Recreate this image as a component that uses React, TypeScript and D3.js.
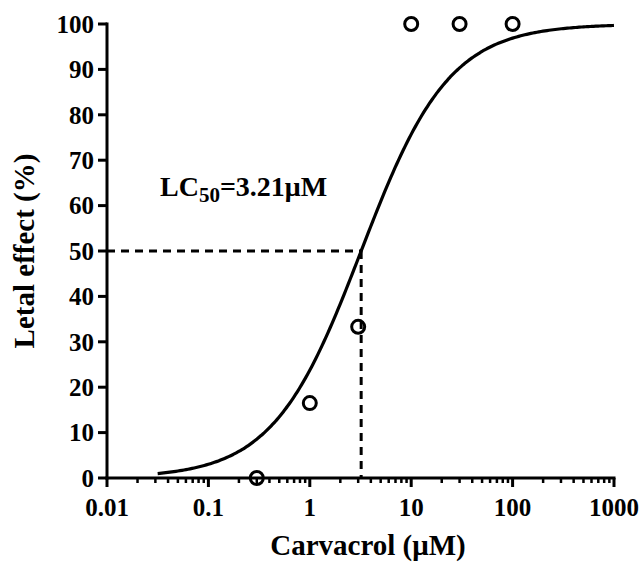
import React from "react";
import * as d3 from "d3";

const doseX = [0.3, 1, 3, 10, 30, 100];
const effectY = [0, 16.5, 33.3, 100, 100, 100];
const xTicks = [0.01, 0.1, 1, 10, 100, 1000];
const xTickLabels = ["0.01", "0.1", "1", "10", "100", "1000"];
const yTicks = [0, 10, 20, 30, 40, 50, 60, 70, 80, 90, 100];
const lc50 = 3.21;
const hillSlope = 1.0;
const curveTop = 100;
const curveBottom = 0;
const curveStart = 0.0316;
const curveEnd = 1000;

export default function App() {
  const W = 642, H = 563;
  const x = d3.scaleLog().domain([0.01, 1000]).range([107, 614]);
  const y = d3.scaleLinear().domain([0, 100]).range([478, 24]);
  const hill = (c: number) => curveBottom + (curveTop - curveBottom) / (1 + Math.pow(lc50 / c, hillSlope));
  const logs = d3.range(Math.log10(curveStart), Math.log10(curveEnd) + 1e-9, 0.02);
  const pts: [number, number][] = logs.map((l) => [Math.pow(10, l), hill(Math.pow(10, l))]);
  const line = d3.line<[number, number]>().x((d) => x(d[0])).y((d) => y(d[1])).curve(d3.curveMonotoneX);
  const minor: number[] = [];
  for (let e = -2; e < 3; e++) for (let k = 2; k <= 9; k++) minor.push(k * Math.pow(10, e));
  const font = "'Liberation Serif', 'Times New Roman', serif";
  const x0 = x.range()[0];
  const y0 = y.range()[0];
  return (
    <svg width={W} height={H} style={{ position: "absolute", left: 0, top: 0 }} fontFamily={font} fontWeight="bold">
      <rect width={W} height={H} fill="#fff" />
      {/* dashed guides */}
      <line x1={x0} x2={x(lc50)} y1={y(50)} y2={y(50)} stroke="#000" strokeWidth={3} strokeDasharray="8,6" />
      <line x1={x(lc50)} x2={x(lc50)} y1={y(50)} y2={y0} stroke="#000" strokeWidth={3} strokeDasharray="8,6" />
      {/* curve */}
      <path d={line(pts) || ""} fill="none" stroke="#000" strokeWidth={3.2} />
      {/* axes */}
      <line x1={x0} x2={x0} y1={y(100) - 1.5} y2={y0 + 1.5} stroke="#000" strokeWidth={3} />
      <line x1={x0 - 1.5} x2={x.range()[1] + 1.5} y1={y0} y2={y0} stroke="#000" strokeWidth={3} />
      {yTicks.map((t) => (
        <g key={"y" + t}>
          <line x1={x0 - 9} x2={x0} y1={y(t)} y2={y(t)} stroke="#000" strokeWidth={3} />
          <text x={x0 - 13} y={y(t)} dy="0.35em" textAnchor="end" fontSize={25}>{t}</text>
        </g>
      ))}
      {xTicks.map((t, i) => (
        <g key={"x" + t}>
          <line x1={x(t)} x2={x(t)} y1={y0} y2={y0 + 9} stroke="#000" strokeWidth={3} />
          <text x={x(t)} y={y0 + 38} textAnchor="middle" fontSize={25}>{xTickLabels[i]}</text>
        </g>
      ))}
      {minor.map((t) => (
        <line key={"m" + t} x1={x(t)} x2={x(t)} y1={y0} y2={y0 + 5} stroke="#000" strokeWidth={2.5} />
      ))}
      {/* points */}
      {doseX.map((d, i) => (
        <circle key={"p" + i} cx={x(d)} cy={y(effectY[i])} r={6.5} fill="none" stroke="#000" strokeWidth={3} />
      ))}
      {/* annotation */}
      <text x={160} y={196} fontSize={28}>
        LC<tspan fontSize={21} dy={6}>50</tspan><tspan dy={-6}>=3.21μM</tspan>
      </text>
      {/* axis titles */}
      <text x={368} y={555} textAnchor="middle" fontSize={29}>Carvacrol (μM)</text>
      <text transform={`translate(34,${y(50)}) rotate(-90)`} textAnchor="middle" fontSize={29}>Letal effect (%)</text>
    </svg>
  );
}
